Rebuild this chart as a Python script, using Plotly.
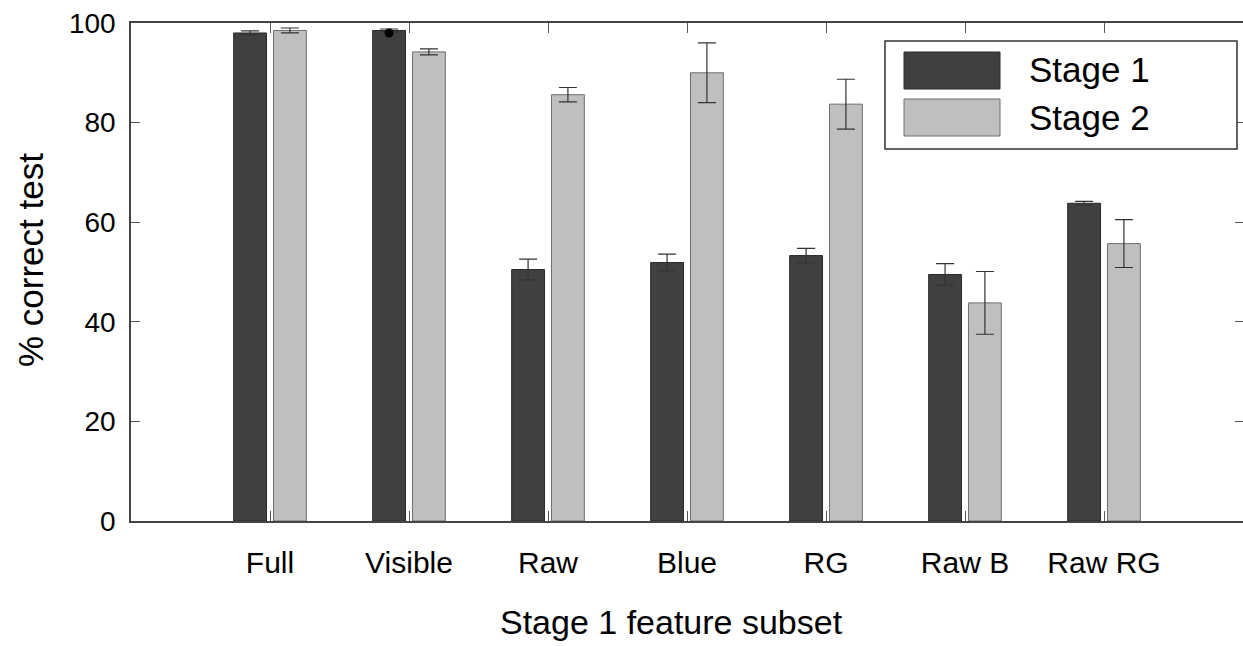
import plotly.graph_objects as go

categories = ["Full", "Visible", "Raw", "Blue", "RG", "Raw B", "Raw RG"]
stage1 = [98.0, 98.5, 50.5, 51.9, 53.3, 49.5, 63.8]
stage1_err = [0.4, 0.3, 2.1, 1.7, 1.45, 2.2, 0.4]
stage2 = [98.5, 94.2, 85.6, 90.0, 83.7, 43.8, 55.7]
stage2_err = [0.5, 0.6, 1.45, 6.0, 5.0, 6.3, 4.8]
marker_cat = ["Visible"]
marker_val = [98.0]
y_ticks = [0, 20, 40, 60, 80, 100]

W, H = 1243, 646
ML, MR, MT, MB = 131, 0, 23, 125
PW, PH = W - ML - MR, H - MT - MB
FONT = "Liberation Sans, Arial, sans-serif"
C1, C2 = "#404040", "#bfbfbf"

BARGAP, GROUPGAP = 0.427, 0.175
xpos = list(range(len(categories)))
offset = (1 - BARGAP) / 4.0


def px(x):
    return (x - ML) / PW


def py(y):
    return (H - MB - y) / PH


fig = go.Figure()
fig.add_trace(go.Bar(
    x=xpos, y=stage1, name="Stage 1",
    marker=dict(color=C1, line=dict(color="#2a2a2a", width=1)),
    error_y=dict(type="data", array=stage1_err, color="#333333", thickness=1.2, width=9),
    showlegend=False,
))
fig.add_trace(go.Bar(
    x=xpos, y=stage2, name="Stage 2",
    marker=dict(color=C2, line=dict(color="#6e6e6e", width=1)),
    error_y=dict(type="data", array=stage2_err, color="#333333", thickness=1.2, width=9),
    showlegend=False,
))
fig.add_trace(go.Scatter(
    x=[categories.index(c) - offset for c in marker_cat], y=marker_val,
    mode="markers", marker=dict(color="black", size=9),
    showlegend=False, hoverinfo="skip",
))
# invisible trace to activate right-side y ticks
fig.add_trace(go.Scatter(x=[xpos[0]], y=[0], yaxis="y2", mode="markers",
                         marker=dict(opacity=0), showlegend=False, hoverinfo="skip"))

fig.update_layout(
    width=W, height=H,
    margin=dict(l=ML, r=MR, t=MT, b=MB, pad=0),
    paper_bgcolor="white", plot_bgcolor="white",
    barmode="group", bargap=BARGAP, bargroupgap=GROUPGAP,
    font=dict(family=FONT, color="black"),
    xaxis=dict(
        range=[-1, 7], tickmode="array", tickvals=xpos, ticktext=categories,
        ticks="inside", ticklen=10, tickcolor="#555555", tickwidth=1,
        showline=True, linecolor="#444444", linewidth=1.5, mirror="ticks",
        showgrid=False, zeroline=False, tickfont=dict(size=30, family=FONT),
        ticklabelstandoff=14,
    ),
    yaxis=dict(
        range=[0, 100], tickmode="array", tickvals=y_ticks,
        ticks="inside", ticklen=9, tickcolor="#555555", tickwidth=1,
        showline=True, linecolor="#444444", linewidth=1.5,
        showgrid=False, zeroline=False, tickfont=dict(size=28, family=FONT),
        ticklabelstandoff=8,
    ),
    yaxis2=dict(
        range=[0, 100], overlaying="y", side="right", tickmode="array", tickvals=y_ticks,
        ticks="inside", ticklen=8, tickcolor="#555555", tickwidth=1,
        showticklabels=False, showline=False, showgrid=False, zeroline=False,
    ),
)

# axis titles
fig.add_annotation(text="Stage 1 feature subset", xref="paper", yref="paper",
                   x=px(671), y=py(622), xanchor="center", yanchor="middle",
                   showarrow=False, font=dict(size=34, family=FONT))
fig.add_annotation(text="% correct test", xref="paper", yref="paper",
                   x=px(30), y=py(260), xanchor="center", yanchor="middle",
                   textangle=-90, showarrow=False, font=dict(size=35, family=FONT))

# legend box
fig.add_shape(type="rect", xref="paper", yref="paper",
              x0=px(885), x1=px(1237), y0=py(41), y1=py(149),
              line=dict(color="#333333", width=1.5), fillcolor="white", layer="above")
for i, (nm, col, lc) in enumerate([("Stage 1", C1, "#2a2a2a"), ("Stage 2", C2, "#6e6e6e")]):
    top = 52 + i * 47
    fig.add_shape(type="rect", xref="paper", yref="paper",
                  x0=px(904), x1=px(1000), y0=py(top), y1=py(top + 37),
                  line=dict(color=lc, width=1), fillcolor=col, layer="above")
    fig.add_annotation(text=nm, xref="paper", yref="paper",
                       x=px(1027), y=py(top + 18), xanchor="left", yanchor="middle",
                       showarrow=False, font=dict(size=35, family=FONT))

fig.write_html("out.html")
